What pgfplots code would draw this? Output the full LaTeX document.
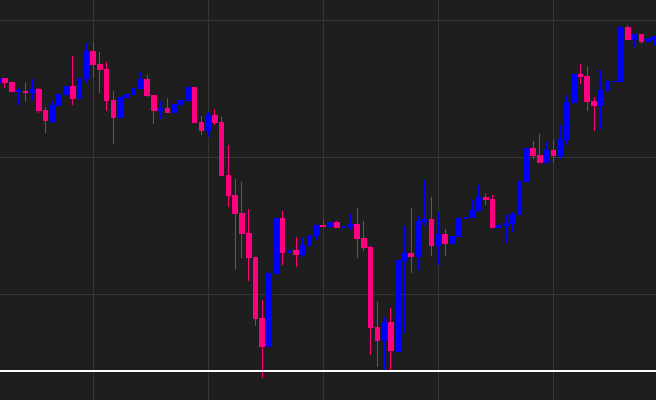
\documentclass[border=0pt]{standalone}
\usepackage{pgfplots}
\usepackage{pgfplotstable}
\pgfplotsset{compat=1.18}
\definecolor{chartbg}{RGB}{30,30,30}
\definecolor{gridgray}{RGB}{54,54,54}
\definecolor{upblue}{RGB}{0,0,255}
\definecolor{downpink}{RGB}{255,0,128}

% rising candles: index, open, high, low, close
\pgfplotstableread{
x open high low close
-1 317 322 317 322
2 308 312 295 310
4 307 321 300 311
7 278 299 277 295
8 294 306 277 306
9 305 328 305 314
11 301 338 287 322
12 321 357 317 349
17 282 303 282 303
18 302 306 302 306
19 305 318 305 312
20 311 328 311 321
23 289 299 281 292
25 287 296 287 296
26 295 300 295 300
27 299 313 299 313
30 269 288 263 285
39 53 135 34 127
40 126 204 99 182
42 147 152 147 150
44 145 162 143 155
45 154 165 153 165
46 164 175 160 175
48 173 178 173 178
50 172 177 170 174
51 173 186 170 176
56 59 83 30 78
58 48 145 47 140
59 139 174 67 147
61 143 184 130 179
62 178 220 174 181
64 154 188 135 166
66 156 164 156 164
67 163 182 163 182
68 181 183 171 183
69 182 200 182 190
70 189 215 189 203
73 172 183 162 175
74 174 185 157 177
75 176 188 168 186
76 185 220 169 219
77 218 252 218 252
80 237 258 237 250
82 244 275 241 261
83 260 305 255 298
84 297 335 291 326
88 294 330 271 310
89 309 319 300 319
90 318 319 318 319
91 318 374 318 373
93 360 366 353 366
95 358 362 358 362
96 360 364 355 364
}\upcandles

% falling candles: index, open, high, low, close
\pgfplotstableread{
x open high low close
0 322 322 312 317
1 318 318 308 308
3 309 318 298 307
5 311 312 287 289
6 290 293 267 279
10 314 344 295 301
13 349 358 322 335
14 336 348 307 330
15 331 338 289 299
16 300 309 256 282
21 321 325 303 304
22 305 305 276 289
24 292 302 287 287
28 313 313 277 277
29 278 284 265 269
31 285 291 275 277
32 278 283 224 224
33 225 255 193 204
34 205 221 130 186
35 187 218 142 166
36 167 191 119 142
37 143 143 74 81
38 82 100 22 53
41 182 189 135 147
43 150 163 133 145
47 175 180 173 173
49 178 179 172 172
52 176 192 142 161
53 162 179 149 152
54 153 154 45 72
55 73 98 33 59
57 78 92 30 49
60 147 192 127 143
63 181 203 144 154
65 166 171 144 156
71 203 207 195 200
72 201 205 172 172
78 252 259 241 244
79 245 266 237 237
81 250 260 237 244
85 326 336 316 323
86 324 334 289 298
87 299 303 269 294
92 373 375 360 360
94 366 366 356 358
}\downcandles

\pgfplotsset{
  candle/.style 2 args={draw=none, mark=none, forget plot,
    error bars/.cd, y dir=plus, y explicit, error mark=none,
    error bar style={draw=#1, line width=#2, solid}},
}

\begin{document}
\begin{tikzpicture}
\begin{axis}[
    width=656bp, height=400bp, scale only axis,
    xmin=-0.738, xmax=96.15,
    ymin=0, ymax=400,
    axis background/.style={fill=chartbg},
    axis line style={draw=none},
    xtick={13,30,47,64,81},
    ytick={105,242,379},
    xticklabels={}, yticklabels={},
    major tick length=0pt,
    grid=major,
    grid style={draw=gridgray, line width=1bp},
]
% wicks
\addplot[candle={upblue}{1bp}] table[x=x, y=low,
    y error plus expr={\thisrow{high}-\thisrow{low}}] {\upcandles};
\addplot[candle={downpink}{1bp}] table[x=x, y=low,
    y error plus expr={\thisrow{high}-\thisrow{low}}] {\downcandles};
% bodies
\addplot[candle={upblue}{5.6bp}] table[x=x, y=open,
    y error plus expr={\thisrow{close}-\thisrow{open}}] {\upcandles};
\addplot[candle={downpink}{5.6bp}] table[x=x, y=close,
    y error plus expr={\thisrow{open}-\thisrow{close}}] {\downcandles};
% last price line
\addplot[white, line width=1.5bp, forget plot] coordinates {(-2,29) (98,29)};
\end{axis}
\pgfresetboundingbox
\useasboundingbox (current axis.south west) rectangle (current axis.north east);
\end{tikzpicture}
\end{document}
